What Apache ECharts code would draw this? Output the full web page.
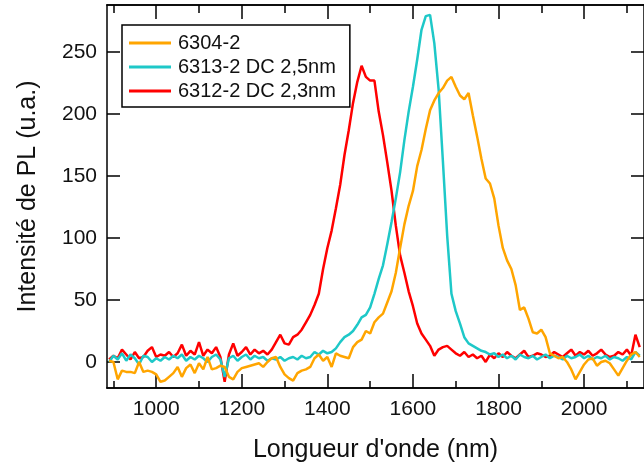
<!DOCTYPE html>
<html>
<head>
<meta charset="utf-8">
<script src="https://cdn.jsdelivr.net/npm/echarts@6/dist/echarts.min.js"></script>
<style>
  html, body { margin: 0; padding: 0; background: #fff; }
  #chart { width: 644px; height: 468px; }
</style>
</head>
<body>
<div id="chart"></div>
<script>
const FONT = '"Liberation Sans", Arial, sans-serif';

// wavelength grid (nm)
const WAVELENGTH = [
  890, 900, 910, 920, 930, 940, 950, 960, 970, 980,
  990, 1000, 1010, 1020, 1030, 1040, 1050, 1060, 1070, 1080,
  1090, 1100, 1110, 1120, 1130, 1140, 1150, 1160, 1170, 1180,
  1190, 1200, 1210, 1220, 1230, 1240, 1250, 1260, 1270, 1280,
  1290, 1300, 1310, 1320, 1330, 1340, 1350, 1360, 1370, 1380,
  1390, 1400, 1410, 1420, 1430, 1440, 1450, 1460, 1470, 1480,
  1490, 1500, 1510, 1520, 1530, 1540, 1550, 1560, 1570, 1580,
  1590, 1600, 1610, 1620, 1630, 1640, 1650, 1660, 1670, 1680,
  1690, 1700, 1710, 1720, 1730, 1740, 1750, 1760, 1770, 1780,
  1790, 1800, 1810, 1820, 1830, 1840, 1850, 1860, 1870, 1880,
  1890, 1900, 1910, 1920, 1930, 1940, 1950, 1960, 1970, 1980,
  1990, 2000, 2010, 2020, 2030, 2040, 2050, 2060, 2070, 2080,
  2090, 2100, 2110, 2120, 2130
];

// 6304-2
const PL_6304 = [
  1, 0, -14, -7, -8, -8, -9, 0, -8, -7,
  -8, -10, -16, -15, -12, -9, -4, -12, -5, -2,
  -9, -1, -6, 4, -6, -5, -3, -4, -12, -14,
  -8, -5, -4, -3, -2, -1, -4, 0, 3, 4,
  -4, -10, -13, -15, -9, -7, -6, -4, 3, 6,
  1, 4, -4, 7, 5, 4, 3, 12, 16, 18,
  25, 23, 32, 36, 39, 48, 57, 72, 92, 111,
  126, 138, 158, 171, 188, 203, 211, 217, 221, 227,
  230, 222, 215, 212, 217, 199, 182, 164, 148, 144,
  132, 110, 92, 82, 75, 62, 42, 44, 35, 24,
  23, 26, 20, 7, 5, 3, 4, 0, -6, -14,
  -8, -2, 2, 3, -3, 0, 1, -1, -6, -11,
  -5, 1, 6, 8, 4
];

// 6313-2 DC 2,5nm
const PL_6313 = [
  0, 5, 2, 7, 1, 6, 3, -2, 5, 4,
  0, 3, 1, 4, 2, 5, 3, 6, 1, 4,
  2, 5, 3, 0, 4, 6, 2, -12, 3, 5,
  1, 4, 6, 2, 5, 3, 4, 1, 3, 2,
  4, 1, 3, 4, 2, 5, 3, 4, 8, 6,
  9, 7, 8, 11, 16, 20, 22, 25, 30, 36,
  38, 44, 55, 67, 78, 95, 113, 132, 153, 179,
  202, 222, 244, 268, 279, 280, 257, 220, 162, 102,
  55, 41, 31, 20, 15, 13, 11, 9, 8, 6,
  7, 4, 6, 3, 5, 2, 6, 4, 3, 5,
  2, 4, 6, 3, 5, 4, 2, 5, 3, 4,
  6, 3, 5, 2, 4, 3, 5, 2, 4, 3,
  1, 4, 2, 8, 5
];

// 6312-2 DC 2,3nm
const PL_6312 = [
  2, 5, 3, 10, 6, 2, 8, 3, 4, 9,
  12, 4, 6, 5, 8, 4, 7, 14, 5, 9,
  6, 16, 5, 10, 7, 12, 4, -16, 6, 15,
  5, 8, 12, 6, 10, 7, 9, 6, 10, 16,
  22, 15, 14, 20, 22, 26, 32, 38, 46, 55,
  75, 92, 106, 124, 143, 167, 187, 209, 226, 239,
  230, 227, 227, 202, 183, 161, 138, 110, 86, 72,
  57, 45, 31, 23, 18, 13, 5, 10, 12, 13,
  10, 7, 5, 8, 4, 6, 3, 5, 0, 6,
  3, 7, 4, 8, 5, 3, 6, 9, 4, 5,
  7, 6, 4, 5, 8, 6, 4, 7, 10, 5,
  8, 6, 9, 5, 7, 10, 6, 4, 5, 8,
  6, 10, 5, 22, 12
];

const SERIES_NAMES = ['6304-2', '6313-2 DC 2,5nm', '6312-2 DC 2,3nm'];
const SERIES_COLORS = ['#ffa500', '#1ec8c8', '#ff0000'];

const X_MAJOR = [1000, 1200, 1400, 1600, 1800, 2000];
const X_MINOR = [900, 1100, 1300, 1500, 1700, 1900, 2100];
const Y_TICKS = [0, 50, 100, 150, 200, 250];

const X_MIN = 885, X_MAX = 2140;
const Y_MIN = -21, Y_MAX = 288;

function pairs(ys) {
  return WAVELENGTH.map((w, i) => [w, ys[i]]);
}

function xAx(position, ticks, len, withLabels) {
  return {
    type: 'value', position, min: X_MIN, max: X_MAX,
    axisLine: { show: true, onZero: false, lineStyle: { color: '#000', width: 1.5 } },
    axisTick: { show: true, inside: true, length: len, customValues: ticks, lineStyle: { color: '#000', width: 1.5 } },
    axisLabel: withLabels
      ? { show: true, customValues: ticks, formatter: v => String(v), fontSize: 21, color: '#111', fontFamily: FONT, margin: 11 }
      : { show: false },
    splitLine: { show: false },
  };
}

function yAx(position, withLabels) {
  return {
    type: 'value', position, min: Y_MIN, max: Y_MAX,
    axisLine: { show: true, onZero: false, lineStyle: { color: '#000', width: 1.5 } },
    axisTick: { show: true, inside: true, length: 13, customValues: Y_TICKS, lineStyle: { color: '#000', width: 1.5 } },
    axisLabel: withLabels
      ? { show: true, customValues: Y_TICKS, formatter: v => String(v), fontSize: 21, color: '#111', fontFamily: FONT, margin: 10 }
      : { show: false },
    splitLine: { show: false },
  };
}

function lineSeries(name, color, ys) {
  return {
    type: 'line', name, data: pairs(ys),
    xAxisIndex: 0, yAxisIndex: 0,
    showSymbol: false, symbol: 'none', clip: true,
    lineStyle: { color, width: 2.5 },
    itemStyle: { color },
  };
}

const chart = echarts.init(document.getElementById('chart'), null, { renderer: 'canvas' });

const xBottom = xAx('bottom', X_MAJOR, 14, true);
xBottom.name = "Longueur d'onde (nm)";
xBottom.nameLocation = 'middle';
xBottom.nameGap = 50;
xBottom.nameTextStyle = { fontSize: 25, color: '#111', fontFamily: FONT };

const yLeft = yAx('left', true);
yLeft.name = 'Intensité de PL (u.a.)';
yLeft.nameLocation = 'middle';
yLeft.nameGap = 66;
yLeft.nameTextStyle = { fontSize: 25, color: '#111', fontFamily: FONT };

chart.setOption({
  animation: false,
  backgroundColor: '#fff',
  grid: { left: 107, right: -6, top: 5, bottom: 80, containLabel: false },
  xAxis: [
    xBottom,
    xAx('bottom', X_MINOR, 7, false),
    xAx('top', X_MAJOR, 14, false),
    xAx('top', X_MINOR, 8, false),
  ],
  yAxis: [yLeft, yAx('right', false)],
  legend: {
    orient: 'vertical', left: 122, top: 25,
    data: SERIES_NAMES,
    icon: 'rect', itemWidth: 42, itemHeight: 3, itemGap: 4,
    padding: [8, 14, 6, 7],
    backgroundColor: '#fff', borderColor: '#000', borderWidth: 1.5,
    textStyle: { fontSize: 20, color: '#111', fontFamily: FONT, padding: [0, 0, 0, 2] },
  },
  // drawn red first, orange last (orange ends on top)
  series: [
    lineSeries(SERIES_NAMES[2], SERIES_COLORS[2], PL_6312),
    lineSeries(SERIES_NAMES[1], SERIES_COLORS[1], PL_6313),
    lineSeries(SERIES_NAMES[0], SERIES_COLORS[0], PL_6304),
  ],
});
</script>
</body>
</html>
